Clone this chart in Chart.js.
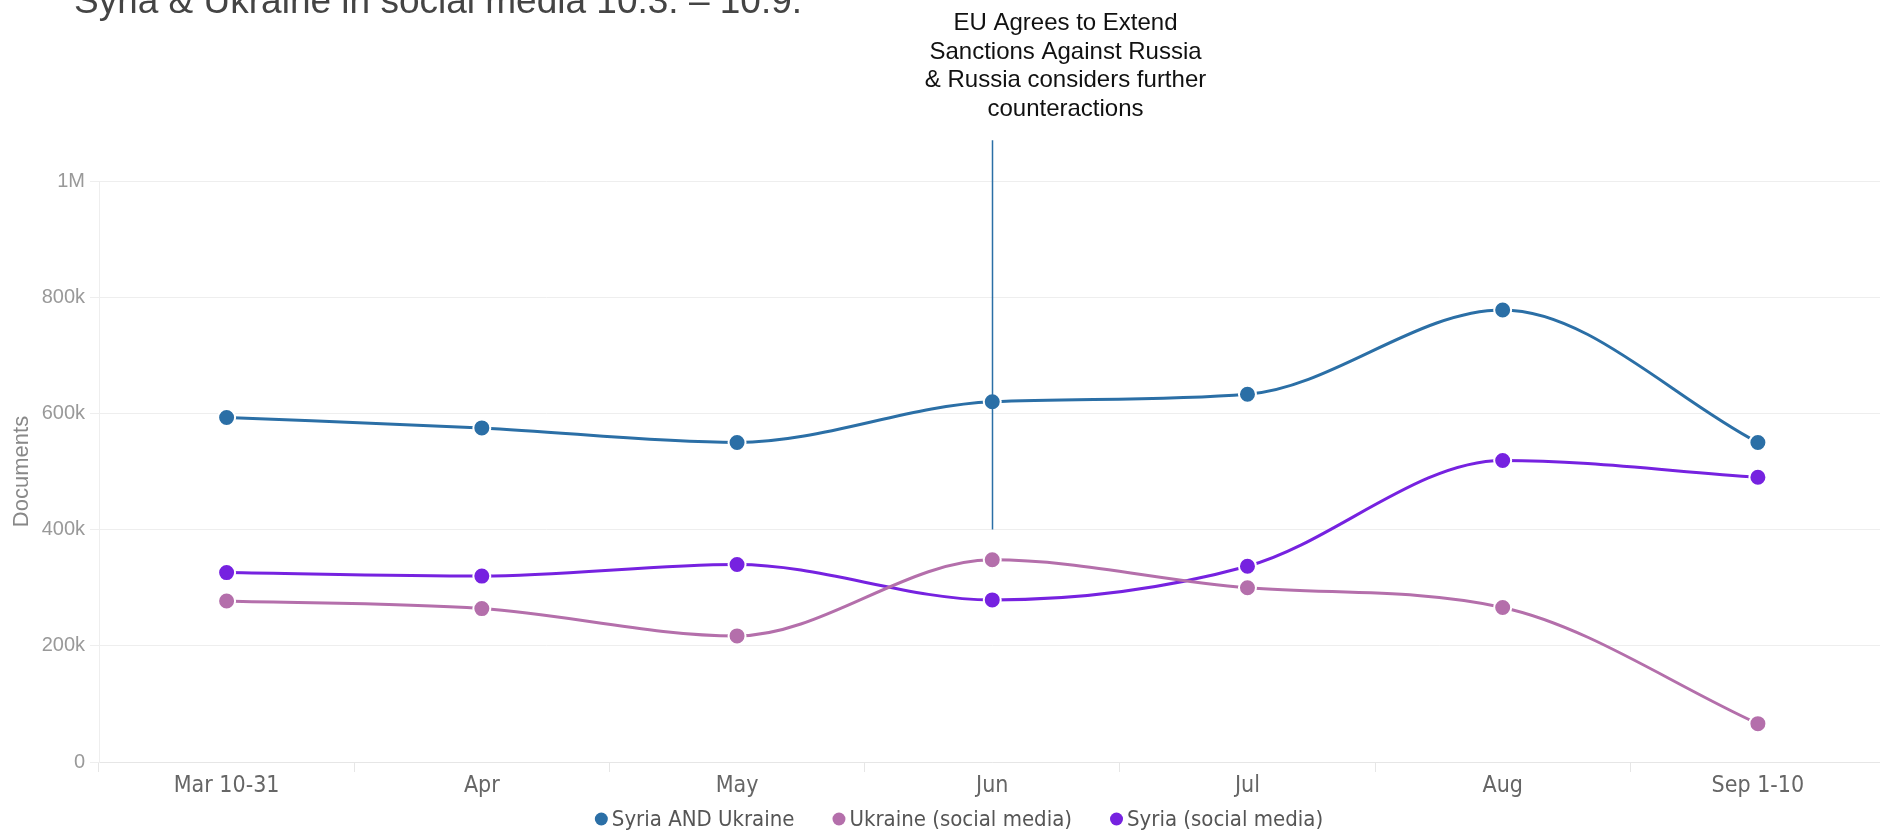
<!DOCTYPE html>
<html>
<head>
<meta charset="utf-8">
<script src="https://cdn.jsdelivr.net/npm/chart.js@4.4.1/dist/chart.umd.min.js"></script>
<style>
  html, body { margin: 0; padding: 0; background: #ffffff; overflow: hidden; width: 1880px; height: 830px; }
  #wrap { position: relative; width: 1880px; height: 830px; overflow: hidden; }
  canvas { position: absolute; left: 0; top: 0; }
</style>
</head>
<body>
<div id="wrap"><canvas id="c" width="1896" height="830"></canvas></div>
<script>
// ---- data ----
const categories = ["Mar 10-31", "Apr", "May", "Jun", "Jul", "Aug", "Sep 1-10"];
const syriaAndUkraine = [593000, 575000, 550000, 620000, 633000, 778000, 550000];
const ukraineSocial   = [277000, 264000, 217000, 348000, 300000, 266000, 66000];
const syriaSocial     = [326000, 320000, 340000, 279000, 337000, 519000, 490000];
const seriesNames = ["Syria AND Ukraine", "Ukraine (social media)", "Syria (social media)"];
const yTicks = [0, 200000, 400000, 600000, 800000, 1000000];
const yTickLabels = ["0", "200k", "400k", "600k", "800k", "1M"];
const titleText = "Syria & Ukraine in social media 10.3. \u2013 10.9.";
const annotationCategory = "Jun";
const annotationFrom = 400000;
const annotationTo = 1070000;
const annotationLines = ["EU Agrees to Extend", "Sanctions Against Russia", "& Russia considers further", "counteractions"];

const colors = ["#2b6fa6", "#b46fab", "#7622e0"];
const FONT = "'Liberation Sans', Arial, Helvetica, sans-serif";
const NARROW = "'Liberation Sans Narrow', 'DejaVu Sans Condensed', 'Liberation Sans', sans-serif";

const headerPlugin = {
  id: 'header',
  afterDraw(chart) {
    const ctx = chart.ctx;
    const xs = chart.scales.x, ys = chart.scales.y;
    ctx.save();
    // title
    ctx.fillStyle = '#444444';
    ctx.font = '37px ' + FONT;
    ctx.textAlign = 'left';
    ctx.textBaseline = 'alphabetic';
    ctx.fillText(titleText, 74, 13);
    // annotation line
    const idx = categories.indexOf(annotationCategory);
    const lx = Math.round(xs.getPixelForValue(idx)) + 0.5;
    ctx.strokeStyle = colors[0];
    ctx.lineWidth = 1.5;
    ctx.beginPath();
    ctx.moveTo(lx, ys.getPixelForValue(annotationTo));
    ctx.lineTo(lx, ys.getPixelForValue(annotationFrom));
    ctx.stroke();
    // annotation text
    ctx.fillStyle = '#111111';
    ctx.font = '24px ' + FONT;
    ctx.textAlign = 'center';
    annotationLines.forEach((t, i) => ctx.fillText(t, lx + 73, 30 + i * 28.5));
    // legend
    ctx.font = '22px ' + NARROW;
    ctx.textAlign = 'left';
    ctx.textBaseline = 'middle';
    const r = 6.5, gapText = 4, gapItem = 38;
    const widths = seriesNames.map(n => ctx.measureText(n).width);
    let total = 0;
    widths.forEach((w, i) => { total += 2 * r + gapText + w + (i < widths.length - 1 ? gapItem : 0); });
    let x = 959 - total / 2;
    const ly = 819;
    chart.data.datasets.forEach((ds, i) => {
      ctx.fillStyle = ds.borderColor;
      ctx.beginPath();
      ctx.arc(x + r, ly, r, 0, Math.PI * 2);
      ctx.fill();
      ctx.fillStyle = '#555555';
      ctx.fillText(ds.label, x + 2 * r + gapText, ly + 1);
      x += 2 * r + gapText + widths[i] + gapItem;
    });
    ctx.restore();
  }
};

const datasets = [syriaAndUkraine, ukraineSocial, syriaSocial].map((d, i) => ({
  label: seriesNames[i],
  data: d,
  borderColor: colors[i],
  backgroundColor: colors[i],
  pointBackgroundColor: colors[i],
  pointBorderColor: '#ffffff',
  pointBorderWidth: 2,
  pointRadius: 8.5,
  borderWidth: 3,
  cubicInterpolationMode: 'monotone',
  fill: false
}));

new Chart(document.getElementById('c'), {
  type: 'line',
  data: { labels: categories, datasets },
  options: {
    responsive: false,
    animation: false,
    devicePixelRatio: 1,
    layout: { padding: { top: 181, left: 0, right: 0, bottom: 28 } },
    plugins: { legend: { display: false }, tooltip: { enabled: false } },
    scales: {
      x: {
        type: 'category',
        offset: true,
        afterFit(s) { s.height = 40; s.paddingRight = 0; s.paddingLeft = 0; },
        grid: { display: true, drawOnChartArea: false, drawTicks: true, tickLength: 10, offset: true, color: '#e6e6e6', lineWidth: 1 },
        border: { display: true, color: '#e6e6e6', width: 1 },
        ticks: { color: '#666666', font: { family: NARROW, size: 23 }, padding: 0, maxRotation: 0, autoSkip: false }
      },
      y: {
        min: 0, max: 1000000,
        afterFit(s) { s.width = 99; },
        afterBuildTicks(s) { s.ticks = yTicks.map(v => ({ value: v })); },
        grid: { color: '#eeeeee', lineWidth: 1, tickLength: 9, drawTicks: true },
        border: { display: true, color: '#eeeeee', width: 1 },
        ticks: {
          color: '#999999', font: { family: FONT, size: 20 }, padding: 5,
          callback(v) { const i = yTicks.indexOf(v); return i >= 0 ? yTickLabels[i] : ''; }
        },
        title: { display: true, text: 'Documents', color: '#888888', font: { family: FONT, size: 22 }, padding: { top: 9, bottom: 0 } }
      }
    }
  },
  plugins: [headerPlugin]
});
</script>
</body>
</html>
